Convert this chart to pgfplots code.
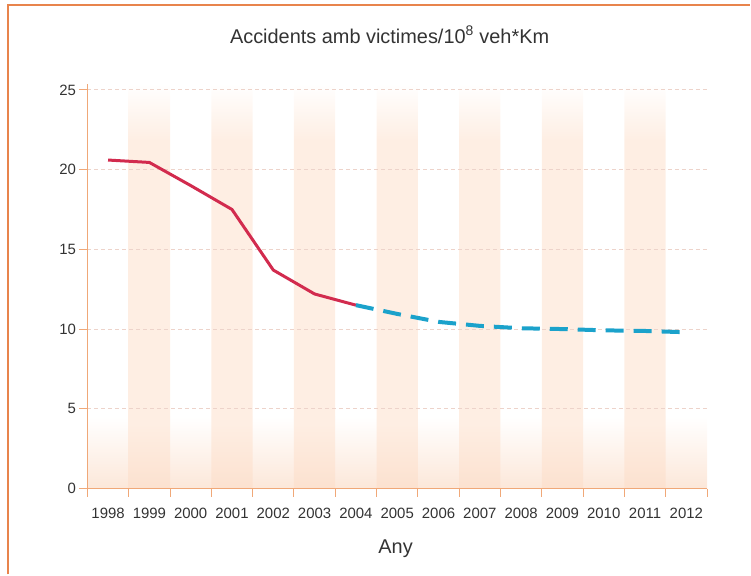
\documentclass[border=0pt]{standalone}
\usepackage{pgfplots}
\pgfplotsset{compat=1.18}
\usepackage{fontspec}
\setmainfont{Liberation Sans}
\definecolor{frameor}{HTML}{E8844C}
\definecolor{axisor}{HTML}{F0A878}
\definecolor{gridc}{HTML}{EDD3CA}
\definecolor{stripe}{HTML}{FEEEE3}
\definecolor{stripeb}{HTML}{FCE1CF}
\definecolor{bandb}{HTML}{FCE7D9}
\definecolor{redl}{HTML}{D22B4E}
\definecolor{bluel}{HTML}{1BA2CB}
\definecolor{txt}{HTML}{333333}
\pgfdeclareverticalshading{stripeshade}{100bp}{color(0bp)=(stripeb); color(25bp)=(stripeb); color(33bp)=(stripe); color(68bp)=(stripe); color(75bp)=(white); color(100bp)=(white)}
\pgfdeclareverticalshading{bandshade}{100bp}{color(0bp)=(bandb); color(25bp)=(bandb); color(75bp)=(white); color(100bp)=(white)}
\pgfplotsset{set layers}
\begin{document}
\begin{tikzpicture}
\path (0,0) rectangle (751bp,575bp);
\draw[frameor, line width=1.5bp] (8bp,0) -- (8bp,570bp) -- (751bp,570bp);
\node[font=\fontsize{20}{24}\selectfont, text=txt] at (390bp,540bp) {Accidents amb victimes/10\textsuperscript{8} veh*Km};
\node[font=\fontsize{20}{24}\selectfont, text=txt] at (396bp,26bp) {Any};
\begin{axis}[
  at={(87.5bp,86bp)}, anchor=south west,
  scale only axis, width=620.2bp, height=405.4bp,
  xmin=-0.5, xmax=14.5, ymin=0, ymax=25.4,
  axis x line=bottom, axis y line=left,
  axis line style={axisor, line width=1.2bp, -},
  tick align=outside, major tick length=8bp,
  tick style={axisor, line width=1bp},
  xtick={-0.5,0.5,...,14.5},
  xticklabels={1998,1999,2000,2001,2002,2003,2004,2005,2006,2007,2008,2009,2010,2011,2012,{}},
  xticklabel style={xshift=20.67bp, yshift=-8bp},
  ytick={0,5,10,15,20,25},
  ymajorgrids,
  grid style={gridc, dash pattern=on 4bp off 3bp, line width=1bp},
  ticklabel style={font=\fontsize{15}{18}\selectfont, text=txt},
  /pgf/number format/assume math mode=true,
  clip=false,
]
\addplot[on layer=axis background, draw=none, shading=bandshade] coordinates {(-0.5,4.5) (14.5,4.5)} \closedcycle;
\addplot[on layer=axis background, ybar, bar width=1, bar shift=0pt, draw=none, shading=stripeshade] coordinates {(1,25.4) (3,25.4) (5,25.4) (7,25.4) (9,25.4) (11,25.4) (13,25.4)};
\addplot[redl, line width=3bp, line join=round] coordinates {(0,20.6) (1,20.45) (2,19.0) (3,17.5) (4,13.7) (5,12.2) (6,11.5)};
\addplot[bluel, line width=4bp, dash pattern=on 18bp off 10bp] coordinates {(6,11.5) (7,10.95) (8,10.45) (9,10.2) (10,10.05) (11,10.0) (12,9.92) (13,9.88) (14,9.8)};
\end{axis}
\end{tikzpicture}
\end{document}
